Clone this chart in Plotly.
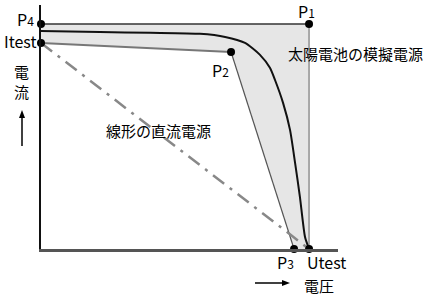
import plotly.graph_objects as go

# Normalised units: voltage (Utest = 1), current (Itest = 1)
curve_v = [0.0, 0.22, 0.407, 0.593, 0.687, 0.761, 0.817, 0.854, 0.873, 0.903, 0.929, 0.948, 0.966, 0.985, 1.0]
curve_i = [1.058, 1.053, 1.049, 1.044, 1.029, 1.0, 0.942, 0.879, 0.82, 0.709, 0.578, 0.417, 0.252, 0.058, 0.0]

point_names = ["P4", "P1", "Utest", "P3", "P2", "Itest"]
point_v = [0.0, 1.0, 1.0, 0.944, 0.709, 0.0]
point_i = [1.092, 1.092, 0.0, 0.0, 0.956, 1.0]

FONT = "Noto Sans CJK JP"
W, H = 445, 300
ML, MR, MT, MB = 41, 107, 5, 51
PW, PH = W - ML - MR, H - MT - MB

def px(x):
    return (x - ML) / PW

def py(y):
    return (H - MB - y) / PH

fig = go.Figure()

fig.add_trace(go.Scatter(x=point_v + [point_v[0]], y=point_i + [point_i[0]], mode="lines",
                         fill="toself", fillcolor="#e6e6e6", line=dict(width=0),
                         hoverinfo="skip", cliponaxis=False))
fig.add_trace(go.Scatter(x=[point_v[0], point_v[1]], y=[point_i[0], point_i[1]], mode="lines",
                         line=dict(color="#333333", width=1.5), cliponaxis=False))
fig.add_trace(go.Scatter(x=[point_v[1], point_v[2]], y=[point_i[1], point_i[2]], mode="lines",
                         line=dict(color="#777777", width=1.2), cliponaxis=False))
fig.add_trace(go.Scatter(x=[point_v[3], point_v[4]], y=[point_i[3], point_i[4]], mode="lines",
                         line=dict(color="#555555", width=1.2), cliponaxis=False))
fig.add_trace(go.Scatter(x=[point_v[4], point_v[5]], y=[point_i[4], point_i[5]], mode="lines",
                         line=dict(color="#777777", width=2), cliponaxis=False))
fig.add_trace(go.Scatter(x=[point_v[5], point_v[2]], y=[point_i[5], point_i[2]], mode="lines",
                         line=dict(color="#888888", width=2.5, dash="14px,7px,3px,7px"), cliponaxis=False))
fig.add_trace(go.Scatter(x=curve_v, y=curve_i, mode="lines",
                         line=dict(color="#111111", width=2, shape="spline", smoothing=0.6),
                         cliponaxis=False))
fig.add_trace(go.Scatter(x=point_v, y=point_i, mode="markers",
                         marker=dict(color="black", size=8), cliponaxis=False))

def pl(name):
    if name.startswith("P"):
        return "P<span style='font-size:12px'>" + name[1:] + "</span>"
    return name

ann = []
def add_px(text, x, y, size=16):
    ann.append(dict(text=text, x=px(x), y=py(y), xref="paper", yref="paper",
                    showarrow=False, xanchor="center", yanchor="middle",
                    font=dict(family=FONT, size=size, color="black")))

add_px(pl("P4"), 25, 19)
add_px("Itest", 20, 41)
add_px(pl("P1"), 306, 11)
add_px(pl("P2"), 220, 70)
add_px(pl("P3"), 285, 262)
add_px("Utest", 326, 262)
add_px("太陽電池の模擬電源", 355, 54, size=15)
add_px("線形の直流電源", 158, 130, size=15)
add_px("電<br>流", 21, 82, size=15)
add_px("電圧", 319, 285, size=15)

shapes = [
    dict(type="line", xref="paper", yref="paper", x0=px(22), x1=px(22), y0=py(146), y1=py(118),
         line=dict(color="black", width=1.5)),
    dict(type="path", xref="paper", yref="paper",
         path=f"M {px(19)},{py(118)} L {px(25)},{py(118)} L {px(22)},{py(110)} Z",
         fillcolor="black", line=dict(width=0)),
    dict(type="line", xref="paper", yref="paper", x0=px(255), x1=px(282), y0=py(283), y1=py(283),
         line=dict(color="black", width=1.5)),
    dict(type="path", xref="paper", yref="paper",
         path=f"M {px(282)},{py(280)} L {px(282)},{py(286)} L {px(290)},{py(283)} Z",
         fillcolor="black", line=dict(width=0)),
]

fig.update_layout(
    width=W, height=H, margin=dict(l=ML, r=MR, t=MT, b=MB),
    plot_bgcolor="white", paper_bgcolor="white", showlegend=False,
    annotations=ann, shapes=shapes,
    xaxis=dict(range=[0, 1.108], showgrid=False, zeroline=False, showticklabels=False,
               showline=True, linecolor="#555555", linewidth=2.5, ticks=""),
    yaxis=dict(range=[0, 1.184], showgrid=False, zeroline=False, showticklabels=False,
               showline=True, linecolor="#111111", linewidth=2, ticks=""),
)

fig.write_html("out.html")
